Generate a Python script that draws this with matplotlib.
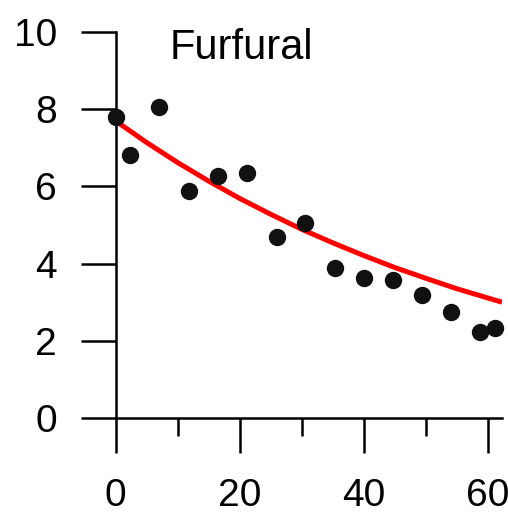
import matplotlib
matplotlib.use("Agg")
import matplotlib.pyplot as plt

plt.rcParams['font.family'] = ['Liberation Sans', 'DejaVu Sans']

# measured points
time_min = [0, 2.3, 7.0, 11.9, 16.6, 21.2, 26.0, 30.6, 35.4, 40.1, 44.7, 49.4, 54.1, 58.8, 61.1]
furfural = [7.80, 6.82, 8.06, 5.87, 6.28, 6.34, 4.69, 5.06, 3.88, 3.62, 3.58, 3.19, 2.75, 2.22, 2.33]

# fitted curve
fit_x = [0, 5, 10, 15, 20, 25, 30, 35, 40, 45, 50, 55, 60, 62.3]
fit_y = [7.70, 7.14, 6.62, 6.14, 5.69, 5.28, 4.89, 4.54, 4.21, 3.90, 3.62, 3.35, 3.11, 3.00]

x_ticks = [0, 20, 40, 60]
y_ticks = [0, 2, 4, 6, 8, 10]

fig = plt.figure(figsize=(5.08, 5.16), dpi=100)
ax = fig.add_axes([115.5 / 508, 98 / 516, 386.5 / 508, 386 / 516])

ax.plot(fit_x, fit_y, color='#ff0000', linewidth=3.6, solid_capstyle='butt', zorder=2)
ax.plot(time_min, furfural, 'o', color='#111111', markersize=11.5, clip_on=False, zorder=3)

ax.set_xlim(0, 62.3)
ax.set_ylim(0, 10)
ax.set_xticks(x_ticks)
ax.set_xticks([10, 30, 50], minor=True)
ax.set_yticks(y_ticks)

for side in ['top', 'right']:
    ax.spines[side].set_visible(False)
for side in ['left', 'bottom']:
    ax.spines[side].set_linewidth(1.8)

ax.tick_params(axis='both', which='major', direction='out', length=25, width=1.8,
               labelsize=28, pad=18)
ax.tick_params(axis='x', which='minor', direction='out', length=13, width=1.8)
ax.tick_params(axis='y', which='major', pad=17)

ax.text(8.8, 9.3, "Furfural", fontsize=30, ha='left', va='baseline')

fig.savefig("out.png", dpi=100)
